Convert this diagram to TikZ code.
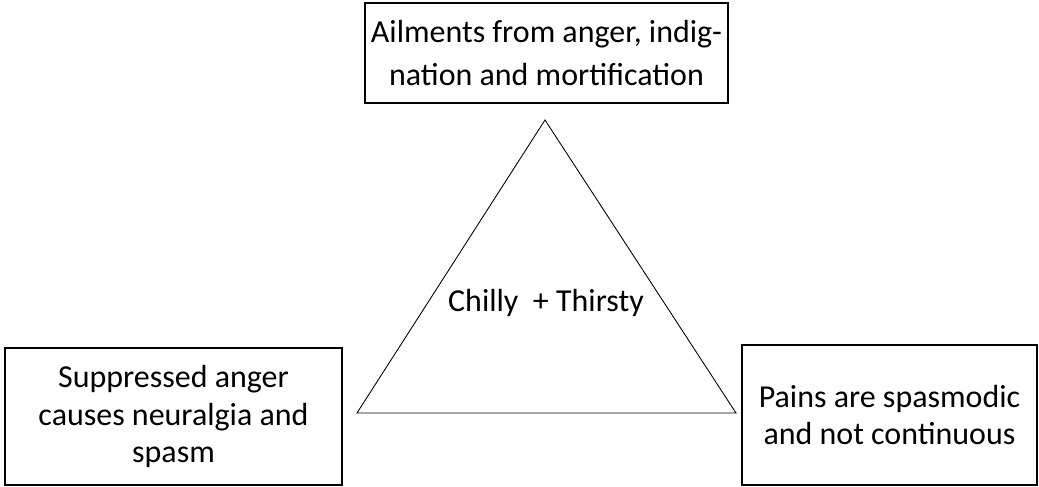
\documentclass[tikz,border=0pt]{standalone}
\usepackage{fontspec}
\setmainfont{Carlito}
\usetikzlibrary{positioning}

\begin{document}
\begin{tikzpicture}[x=0.02cm,y=0.02cm,
    ailbox/.style={draw,line width=0.7pt,align=center,inner sep=0pt,
      font=\fontsize{18.2}{21.4}\selectfont}]
        \useasboundingbox (0,0) rectangle (1039,487);

        \node[ailbox,minimum width=7.26cm,minimum height=2cm,
              font=\fontsize{18.2}{24.5}\selectfont]
          (anger) at (546.5,434)
          {Ailments from anger, indig-\\nation and mortification};
        \node[ailbox,minimum width=6.74cm,minimum height=2.74cm]
          (suppressed) at (173.5,70.5)
          {Suppressed anger\\causes neuralgia and\\spasm};
        \node[ailbox,minimum width=5.9cm,minimum height=2.8cm]
          (pains) at (889.5,72)
          {Pains are spasmodic\\and not continuous};

        \coordinate (apex) at (545,367);
        \coordinate (baseleft) at (357,74);
        \coordinate (baseright) at (736,74);
        \draw[line width=0.5pt] (apex) -- (baseleft) -- (baseright) -- cycle;

        \node[font=\fontsize{18.2}{24.5}\selectfont]
          (chilly) at (546,184) {Chilly\ \ + Thirsty};
      \end{tikzpicture}
\end{document}
